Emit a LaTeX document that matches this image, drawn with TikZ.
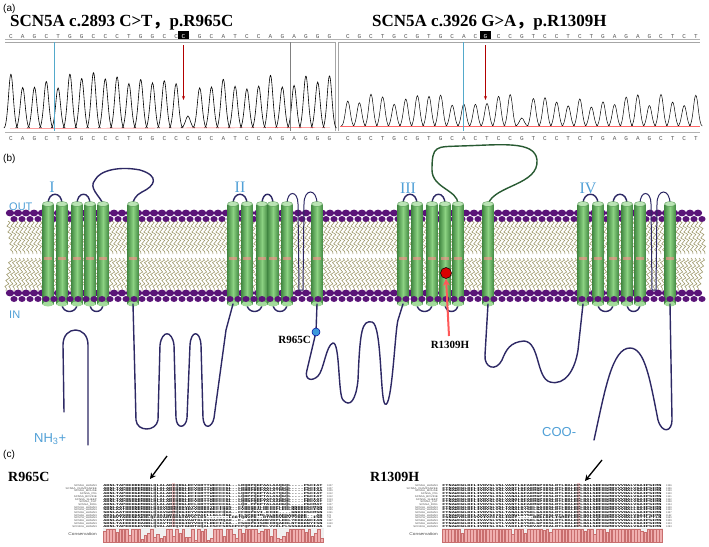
\documentclass[tikz,border=0pt]{standalone}
\usepackage{fontspec}
\setmainfont{Liberation Serif}
\setsansfont{Liberation Sans}
\newfontfamily\seqfont{Liberation Mono}
\newfontfamily\cjk{Noto Sans CJK SC}
\usetikzlibrary{decorations.pathmorphing,arrows.meta}
\definecolor{memblue}{RGB}{80,160,215}
\definecolor{loopc}{RGB}{45,40,100}
\definecolor{lipid}{RGB}{90,20,120}
\definecolor{tail}{RGB}{160,155,110}
\definecolor{cylL}{RGB}{70,140,70}
\definecolor{cylM}{RGB}{140,210,130}
\definecolor{pinkbar}{RGB}{240,175,175}
\definecolor{pinkedge}{RGB}{200,110,110}
\definecolor{greenloop}{RGB}{40,90,50}
\tikzset{
  title/.style={font=\bfseries\fontsize{17}{17}\selectfont, anchor=base west, inner sep=0},
  plab/.style={font=\sffamily\fontsize{11}{11}\selectfont, anchor=base west, inner sep=0},
  base/.style={font=\seqfont\fontsize{6}{6}\selectfont, text=gray!70!black, inner sep=0, anchor=base},
  peak/.style={black, line width=0.6pt},
  loopline/.style={loopc, line width=1.4pt, line cap=round},
  domlab/.style={font=\fontsize{16}{16}\selectfont, text=memblue, inner sep=0},
  mutlab/.style={font=\bfseries\fontsize{11}{11}\selectfont, inner sep=0},
  seqname/.style={font=\sffamily\fontsize{2.5}{2.5}\selectfont, text=gray!60!black, anchor=base east, inner sep=0, xscale=1.2},
  seqtxt/.style={font=\seqfont\bfseries\fontsize{2.9}{2.9}\selectfont, anchor=base west, inner sep=0, xscale=1.8},
  seqnum/.style={font=\sffamily\fontsize{2.5}{2.5}\selectfont, anchor=base west, inner sep=0, text=gray!60!black},
}
\begin{document}
\begin{tikzpicture}[x=1pt,y=-1pt]
\useasboundingbox[fill=white] (0,0) rectangle (709,546);
% ---------------- (a)
\node[plab, font=\sffamily\fontsize{10}{10}\selectfont] (la) at (3,11) {(a)};
\node[title] (t1) at (10,26) {SCN5A c.2893 C>T{\cjk ，}p.R965C};
\node[title] (t2) at (372,26) {SCN5A c.3926 G>A{\cjk ，}p.R1309H};
\draw[gray!70, line width=0.5pt] (5,42) -- (335,42) -- (335,131);
\draw[gray!70, line width=0.5pt] (338,131) -- (338,42) -- (700,42);
\draw[gray!60] (5,39) -- (700,39);
\draw[gray!60] (5,132) -- (700,132);
% left bases
\foreach \b [count=\i] in {C,A,G,C,T,G,G,C,C,C,T,G,G,C,C,C,G,C,A,T,C,C,A,G,A,G,G,G}{
  \node[base] (bt\i) at ({5+(\i-0.5)*11.8},38) {\b};
  \node[base] (bb\i) at ({5+(\i-0.5)*11.8},140) {\b};
}
\fill[black] (178,31) rectangle (189,39);
\node[base, text=white] (mutL) at (183.5,38) {C};
\foreach \b [count=\i] in {C,G,C,T,G,C,G,T,G,C,A,C,T,C,C,G,T,C,C,T,C,T,G,A,G,A,G,C,T,C,T}{
  \node[base] (ct\i) at ({342+(\i-0.5)*11.6},38) {\b};
  \node[base] (cb\i) at ({342+(\i-0.5)*11.6},140) {\b};
}
\fill[black] (480,31) rectangle (491,39);
\node[base, text=white] (mutR) at (485.5,38) {G};
% peaks left
\pgfmathsetseed{7}
\foreach \i in {1,...,28}{
  \pgfmathsetmacro{\px}{5+(\i-0.5)*11.8}
  \pgfmathsetmacro{\h}{ifthenelse(\i==16,12,38+18*rnd)}
  \pgfmathsetmacro{\tp}{128-\h}
  \draw[peak] (\px-7,128) .. controls (\px-3,128) and (\px-2,\tp) .. (\px,\tp) .. controls (\px+2,\tp) and (\px+3,128) .. (\px+7,128);
}
\draw[red!60, line width=0.4pt] (10,128.5) -- (330,127.5);
\draw[cyan!60!gray, line width=0.5pt] (54,42) -- (54,131);
\draw[gray, line width=0.5pt] (290,42) -- (290,131);
\draw[red!70!black, line width=0.7pt, -{Stealth[length=4pt]}] (183.5,45) -- (183.5,100);
% peaks right
\foreach \i in {1,...,31}{
  \pgfmathsetmacro{\px}{342+(\i-0.5)*11.6}
  \pgfmathsetmacro{\h}{ifthenelse(\i==16,8,18+14*rnd)}
  \pgfmathsetmacro{\tp}{126-\h}
  \draw[peak, line width=0.5pt] (\px-6.5,126) .. controls (\px-3,126) and (\px-2,\tp) .. (\px,\tp) .. controls (\px+2,\tp) and (\px+3,126) .. (\px+6.5,126);
}
\draw[red!60, line width=0.4pt] (340,126.5) -- (700,126.5);
\draw[cyan!60!gray, line width=0.5pt] (463,42) -- (463,131);
\draw[red!70!black, line width=0.7pt, -{Stealth[length=4pt]}] (485.5,45) -- (485.5,100);
% ---------------- (b)
\node[plab, font=\sffamily\fontsize{10}{10}\selectfont] (lb) at (3,161) {(b)};
% lipid tails
\foreach \x in {8,12,...,700}{
  \draw[tail, line width=0.6pt, decorate, decoration={snake, amplitude=1.8pt, segment length=6pt}] (\x,221) -- (\x+5,254);
  \draw[tail, line width=0.6pt, decorate, decoration={snake, amplitude=1.8pt, segment length=6pt}] (\x+3,258) -- (\x-2,291);
}
% lipid heads
\foreach \x in {10,18,...,702}{
  \fill[lipid] (\x,213) ellipse (4.2pt and 3.4pt);
  \fill[lipid] (\x+4,219) ellipse (3.6pt and 3pt);
  \fill[lipid] (\x,293) ellipse (4.2pt and 3.4pt);
}
% loops on top between cylinders
\foreach \a/\b in {48/62,77/90,233/247,262/273,403/417,432/445,583/598,613/627}{
  \draw[loopline] (\a,204) .. controls (\a,191) and (\b,191) .. (\b,204);
}
\foreach \a/\b in {62/77,90/103,247/262,273/287,417/432,445/458,598/613,627/640}{
  \draw[loopline] (\a,304) .. controls (\a,314) and (\b,314) .. (\b,304);
}
% pore hairpins II and IV
\draw[loopline, line width=1pt] (287,204) .. controls (287,190) and (298,190) .. (298,204) -- (299,290) -- (303,290) -- (304,204) .. controls (304,188) and (317,188) .. (317,204);
\draw[loopline, line width=1pt] (640,204) .. controls (640,190) and (651,190) .. (651,204) -- (652,290) -- (656,290) -- (657,204) .. controls (657,188) and (670,188) .. (670,204);
% big loops
\draw[loopline] (103,204) .. controls (100,196) and (88,188) .. (95,180) .. controls (100,170) and (120,166) .. (140,170) .. controls (160,176) and (155,186) .. (142,192) .. controls (136,195) and (133,200) .. (133,204);
\draw[greenloop, line width=1.4pt] (458,204) .. controls (458,190) and (432,188) .. (432,170) .. controls (432,145) and (436,147) .. (460,146) .. controls (500,145) and (535,140) .. (537,160) .. controls (539,185) and (495,185) .. (488,204);
% cylinders
\foreach \x in {48,62,77,90,103,133,233,247,262,273,287,317,403,417,432,445,458,488,583,598,613,627,640,670}{
  \shade[left color=cylL, right color=cylL, middle color=cylM] (\x-5.5,204) rectangle (\x+5.5,304);
  \fill[cylM!80!white] (\x,304) ellipse (5.5pt and 2.5pt);
  \fill[cylM!60!white, draw=cylL, line width=0.3pt] (\x,204) ellipse (5.5pt and 2.5pt);
  \fill[red!45, opacity=0.6] (\x-4,257) rectangle (\x+4,259.5);
}
% heads in front of bottom
\foreach \x in {10,18,...,702}{
  \fill[lipid] (\x+4,299) ellipse (3.6pt and 3pt);
}
% labels
\node[domlab] (d1) at (52,187) {I};
\node[domlab] (d2) at (240,187) {II};
\node[domlab] (d3) at (408,188) {III};
\node[domlab] (d4) at (588,188) {IV};
\node[plab, text=memblue] (out) at (9,210) {OUT};
\node[plab, text=memblue] (in) at (9,318) {IN};
\node[plab, text=memblue, font=\sffamily\fontsize{13}{13}\selectfont] (nh) at (34,442) {NH\textsubscript{3}+};
\node[plab, text=memblue, font=\sffamily\fontsize{13}{13}\selectfont] (coo) at (542,436) {COO-};
% intracellular loops
\draw[loopline] (88,445) -- (88,345) .. controls (88,325) and (63,325) .. (63,345) -- (64,412);
\draw[loopline] (133,304) -- (136,420) .. controls (137,432) and (156,432) .. (158,420) -- (160,345) .. controls (162,330) and (172,330) .. (174,345) -- (176,418) .. controls (177,430) and (186,428) .. (187,418) -- (190,345) .. controls (191,330) and (200,330) .. (201,345) -- (203,418) .. controls (204,430) and (212,428) .. (214,418) -- (226,330) -- (233,304);
\draw[loopline] (317,304) -- (316,332) -- (307,370) .. controls (304,380) and (312,382) .. (318,376) .. controls (324,370) and (326,345) .. (333,343) .. controls (340,342) and (338,395) .. (343,400) .. controls (350,408) and (356,400) .. (358,380) .. controls (360,330) and (362,320) .. (372,322) .. controls (382,324) and (380,400) .. (385,404) .. controls (392,410) and (395,330) .. (398,320) -- (403,304);
\draw[loopline] (488,304) -- (485,355) .. controls (484,368) and (496,372) .. (502,360) .. controls (506,350) and (510,342) .. (524,341) .. controls (540,342) and (536,378) .. (550,382) .. controls (565,386) and (575,370) .. (578,350) -- (583,304);
\draw[loopline] (670,304) -- (672,420) .. controls (672,432) and (662,434) .. (658,420) .. controls (650,380) and (645,348) .. (630,348) .. controls (612,348) and (605,390) .. (594,440);
% mutations
\node[circle, fill=cyan!70!blue!80, draw=blue!60!black, line width=0.5pt, minimum size=8pt, inner sep=0] (m1) at (316,332) {};
\node[mutlab, anchor=east] (m1l) at (311,340) {R965C};
\node[circle, fill=red!85!black, draw=black, line width=0.5pt, minimum width=11pt, minimum height=9pt, inner sep=0] (m2) at (446,273) {};
\coordinate (m2t) at (449,336);
\draw[red!65, line width=2pt, -{Stealth[length=7pt,width=7pt]}] (m2t) -- (m2.south);
\node[mutlab, anchor=north] (m2l) at (450,341) {R1309H};
% ---------------- (c)
\node[plab, font=\sffamily\fontsize{10}{10}\selectfont] (lc) at (3,457) {(c)};
\node[title, font=\bfseries\fontsize{14}{14}\selectfont] (c1) at (8,481) {R965C};
\node[title, font=\bfseries\fontsize{14}{14}\selectfont] (c2) at (370,481) {R1309H};
\coordinate (a1s) at (167,456);
\coordinate (a1e) at (150,479);
\draw[black, line width=1.3pt, -{Stealth[length=6pt,width=6pt]}] (a1s) -- (a1e);
\coordinate (a2s) at (602,460);
\coordinate (a2e) at (585,481);
\draw[black, line width=1.3pt, -{Stealth[length=6pt,width=6pt]}] (a2s) -- (a2e);
% highlight columns
\fill[pinkbar!60] (171.5,483) rectangle (174.6,527);
\fill[pinkbar!60] (576.5,483) rectangle (579.6,527);
% left alignment
\foreach \n/\s/\m [count=\i] in {
SCN5A\_HUMAN/ADNLTAPDEDREMNNLQLALARIQRGLRFVKRTTWDFCCGL--LRQRPQKPAALAAQGQL----PSCIAT/1007,
SCN5A\_CHIMPANZEE/ADNLTAPDEDREMNNLQLALARIQRGLRFVKRTTWDFCCGL--LRQRPQKPAALAAQGQL----PSCIAT/1007,
SCN5A\_MOUSE/ADNLTAPDEDGEMNNLQLALARIQRGLRFVKRTTWDFCCGL--LRRRPKKPAALATHSQL----PSCIAA/1009,
SCN5A\_PIG/ADNLTAPDEDGEMNNLQLALARIQRGLRFIKRTTWDFCCGL--LQRPPQKPTALATQGQL----PSCIAT/1012,
SCN5A\_BOVINE/ADNLTAPDEDGEMNNLQLALARIQRGLRFIKRTTWDFCCVL--LQRPPQKPTALASQGQL----PGCIAT/1012,
SCN5A\_SHEEP/ADNLTAPDEDGEMNNLQLALARIQRGLRFIKRTTWDFCCGL--LQRPPQKPAAFASQGQL----PGCIAT/1013,
SCN5A\_CAT/ADNLTAPDDDGEMNNLQLALARIQRGLRFVKRTTWDFCCGL--LQRRPQKPTALAAHGQL----PRCVAT/1007,
SCN5A\_DOG/ADNLTAPDEDGEMNNLQLALARIQRGLRFLKRTTWDFCCGL--LQR-PPKPTALAAHGQL----PGCMAT/1007,
SCN1A\_HUMAN/ADNLAATDDDNEMNNLQIAVDRMHKGVAYVKRKIYEFIQQS--FIRKQKILDEIKPLDDLNNKKDSCMSN/1054,
SCN2A\_HUMAN/SDNLAATDDDNEMNNLQIAVGRMQKGIDFVKRKIREFIQKA--FVRKQKALDEIKPLEDLNNKKDSCISN/1055,
SCN3A\_HUMAN/SDNLAATDDDNEMNNLQIAVGRMQKGIDYVKNKMRECFQKA--FFRKPKVI-EIHE----GNKIDSCMSN/1051,
SCN4A\_HUMAN/ADSLAASDEDGEMNNLQIAIGRIKLGIGFAKAFLLGLLHGK--ILSPKDIMLSLGEADGAGEAGE---AG/871,
SCN7A\_HUMAN/SCKDVTAEENEAKNLQLAVARIKKGINYVLLKI-------LCKTQNVPK--DTMDHVNEVYVKED--ISD/792,
SCN8A\_HUMAN/ADNLAATDDDGEMNNLQISVIRIKKGVAWTKLKVHAFMQAH--F--KQREADEVKPLDELYEKKANCIAN/1047,
SCN9A\_HUMAN/SDNLTAIEEDFDANNLQIAVTRIKKGINYVKQTLREFILKA--FSKKPKISREIRQAEDLNTKKENYISN/1040,
SCN10A\_HUMAN/ADNLTAPEDDGEVNNLQVALARIQVFGHRTKQALCSFFSRSCPFPQPKAEPELVVKLPLSSSKAENHIAA/984}{
  \pgfmathsetmacro{\yy}{486.5+(\i-1)*2.7}
  \node[seqname] (ln\i) at (97,\yy) {\n};
  \node[seqtxt] (ls\i) at (103,\yy) {\s};
  \node[seqnum] (lm\i) at (327,\yy) {\m};
}
% right alignment
\foreach \n/\s/\m [count=\i] in {
SCN5A\_HUMAN/FTNAWCWLDFLIVDVSLVSLVANTLGFAEMGPIKSLRTLRALRPLRALSRFEGMRVVVNALVGAIPSIMN/1336,
SCN5A\_CHIMPANZEE/FTNAWCWLDFLIVDVSLVSLVANTLGFAEMGPIKSLRTLRALRPLRALSRFEGMRVVVNALVGAIPSIMN/1336,
SCN5A\_MOUSE/FTNAWCWLDFLIVDVSLVSLVANTLGFAEMGPIKSLRTLRALRPLRALSRFEGMRVVVNALVGAIPSIMN/1339,
SCN5A\_PIG/FTNAWCWLDFLIVDVSLISLVANALGFAEMGPIKSLRTLRALRPLRALSRFEGMRVVVNALVGAIPSIMN/1340,
SCN5A\_BOVINE/FTNAWCWLDFLIVDVSLISLVANALGFAEMGPIKSLRTLRALRPLRALSRFEGMRVVVNALVGAIPSIMN/1341,
SCN5A\_SHEEP/FTNAWCWLDFLIVDVSLISLVANALGFAEMGPIKSLRTLRALRPLRALSRFEGMRVVVNALVGAIPSIMN/1342,
SCN5A\_CAT/FTNAWCWLDFLIVDVSLVSLVANTLGFAEMGPIKSLRTLRALRPLRALSRFEGMRVVVNALVGAIPSIMN/1338,
SCN5A\_DOG/FTNAWCWLDFLIVDVSLVSLVANTLGFAEMGPIKSLRTLRALRPLRALSRFEGMRVVVNALVGAIPSIMN/1334,
SCN1A\_HUMAN/FTNAWCWLDFLIVDVSLVSLTANALGYSELGAIKSLRTLRALRPLRALSRFEGMRVVVNALLGAIPSIMN/1349,
SCN2A\_HUMAN/FTNAWCWLDFLIVDVSLVSLTANALGYSELGAIKSLRTLRALRPLRALSRFEGMRVVVNALLGAIPSIMN/1339,
SCN3A\_HUMAN/FTNAWCWLDFLIVDVSLVSLTANALGYSELGAIKSLRTLRALRPLRALSRFEGMRVVVNALLGAIPSIMN/1337,
SCN4A\_HUMAN/FTNAWCWLDFLIVDVSIISLVANWLGYSELGPIKSLRTLRALRPLRALSRFEGMRVVVNALVGAIPSIMN/1162,
SCN7A\_HUMAN/FSNGWYRLDFVVVIVFCLSLIGKT-----REELKPLISMKFLRPLRVLSQFERMKVVVRALIKTTLPTLN/1060,
SCN8A\_HUMAN/FTNAWCWLDFLIVAVSLVSLIANALGYSELGAIKSLRTLRALRPLRALSRFEGMRVVVNALVGAIPSIMN/1329,
SCN9A\_HUMAN/FTNAWCWLDFLIVDVSLVTLVANTLGYSDLGPIKSLRTLRALRPLRALSRFEGMRVVVNALIGAIPSIMN/1323,
SCN10A\_HUMAN/FTNAWCWLDFLIVNISLISLTAKILEYSEVAPIKALRTLRALRPLRALSRFEGMRVVVDALVGAIPSIMN/1283}{
  \pgfmathsetmacro{\yy}{486.5+(\i-1)*2.7}
  \node[seqname] (rn\i) at (438,\yy) {\n};
  \node[seqtxt] (rs\i) at (442,\yy) {\s};
  \node[seqnum] (rm\i) at (666,\yy) {\m};
}
% conservation
\node[seqname, font=\sffamily\fontsize{4}{4}\selectfont] (lcons) at (97,535) {Conservation};
\node[seqname, font=\sffamily\fontsize{4}{4}\selectfont] (rcons) at (438,535) {Conservation};
\fill[gray!12] (103,528) rectangle (324,542);
\fill[gray!12] (442,528) rectangle (663,542);
\pgfmathsetseed{11}
\foreach \i in {0,...,69}{
  \pgfmathsetmacro{\hh}{ifthenelse(rnd<0.55,13,2+9*rnd)}
  \filldraw[fill=pinkbar, draw=pinkedge, line width=0.2pt] ({103+\i*3.15},542) rectangle ({103+\i*3.15+2.6},{542-\hh});
  \pgfmathsetmacro{\hr}{ifthenelse(rnd<0.85,13,8+4*rnd)}
  \filldraw[fill=pinkbar, draw=pinkedge, line width=0.2pt] ({442+\i*3.15},542) rectangle ({442+\i*3.15+2.6},{542-\hr});
}
\end{tikzpicture}
\end{document}
